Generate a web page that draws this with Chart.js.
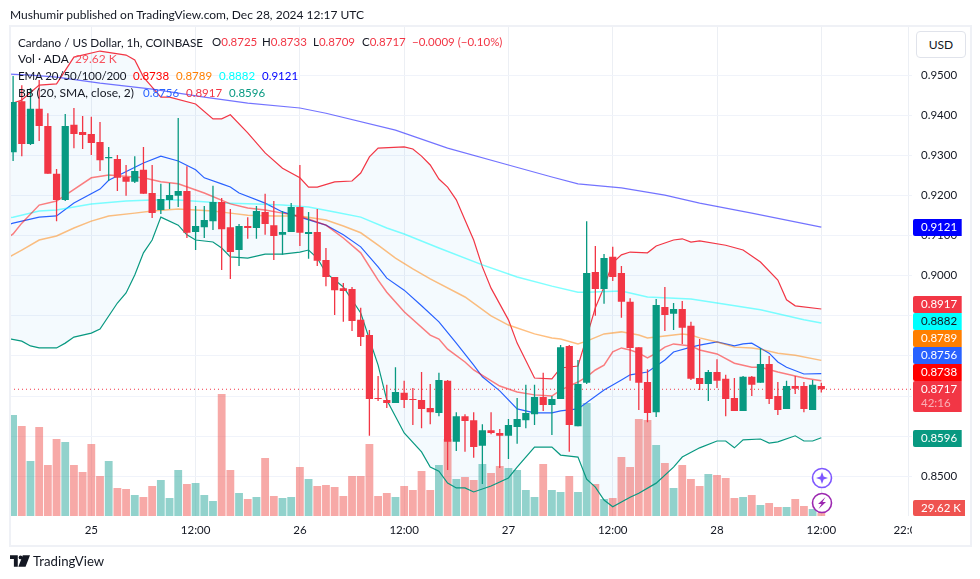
<!DOCTYPE html>
<html lang="en">
<head>
<meta charset="UTF-8">
<title>ADA/USD</title>
<script src="https://cdn.jsdelivr.net/npm/chart.js"></script>
<style>
    html, body { margin: 0; padding: 0; background: #fff; }
    body { width: 980px; height: 579px; overflow: hidden; position: relative; font-family: Lato, sans-serif; font-size: 12px; color: #131722; }
    canvas { position: absolute; left: 0; top: 0; }
    .txt { position: absolute; white-space: pre; line-height: 16px; }
    .val { font-size: 11.5px; }
    .frame { position: absolute; left: 9px; top: 25px; width: 959px; height: 518px; border: 2px solid #eff1f6; }
    .usd { position: absolute; left: 916px; top: 31px; width: 48px; height: 25px; border: 1px solid #e0e3eb; border-radius: 4px; text-align: center; line-height: 25px; background: #fff; }
    .cut { position: absolute; left: 912px; top: 518px; width: 50px; height: 22px; background: #fff; }
    svg { position: absolute; }
    .r { color: #f23645; }
</style>
</head>
<body>
<canvas id="chart" width="980" height="579"></canvas>
<div class="cut"></div>
<div class="frame"></div>
<div class="usd">USD</div>
<div class="txt" style="left:10px;top:7px">Mushumir published on TradingView.com, Dec 28, 2024 12:17 UTC</div>
<div class="txt" style="left:18px;top:34px;font-size:11.7px">Cardano / US Dollar, 1h, COINBASE</div>
<div class="txt val" style="left:212px;top:34px">O<span class="r">0.8725</span></div>
<div class="txt val" style="left:262px;top:34px">H<span class="r">0.8733</span></div>
<div class="txt val" style="left:313px;top:34px">L<span class="r">0.8709</span></div>
<div class="txt val" style="left:362px;top:34px">C<span class="r">0.8717</span></div>
<div class="txt val r" style="left:412px;top:34px">−0.0009 (−0.10%)</div>
<div class="txt" style="left:18px;top:51px">Vol · ADA</div>
<div class="txt" style="left:75px;top:51px;color:#f7525f">29.62 K</div>
<div class="txt" style="left:18px;top:68px;font-size:11.5px;letter-spacing:-.1px">EMA 20/50/100/200</div>
<div class="txt val" style="left:133px;top:68px;color:#ff0000">0.8738</div>
<div class="txt val" style="left:176px;top:68px;color:#ff7f00">0.8789</div>
<div class="txt val" style="left:219px;top:68px;color:#00ffff">0.8882</div>
<div class="txt val" style="left:262px;top:68px;color:#0000ff">0.9121</div>
<div class="txt" style="left:18px;top:85px">BB (20, SMA, close, 2)</div>
<div class="txt val" style="left:143px;top:85px;color:#2962ff">0.8756</div>
<div class="txt val r" style="left:186px;top:85px">0.8917</div>
<div class="txt val" style="left:229px;top:85px;color:#089981">0.8596</div>
<svg style="left:810px;top:467px" width="24" height="48" viewBox="0 0 24 48">
    <circle cx="12" cy="11" r="9.5" fill="#fff" stroke="#7e57ff" stroke-width="1.6"/>
    <path d="M12 5 L13.6 9.4 L18 11 L13.6 12.6 L12 17 L10.4 12.6 L6 11 L10.4 9.4 Z" fill="#7e57ff"/>
    <circle cx="12" cy="36" r="9.5" fill="#fff" stroke="#9c27b0" stroke-width="1.6"/>
    <path d="M15.5 30 L8 37 L11.5 37 L8.5 42 L16 35 L12.5 35 Z" fill="#9c27b0"/>
</svg>
<svg style="left:10px;top:555px" width="20" height="12" viewBox="0 0 36 21">
    <path d="M0 0 H14 V21 H7 V7 H0 Z M15 21 L23 0 H36 L28 21 Z" fill="#131722"/>
    <circle cx="19" cy="4" r="3.4" fill="#131722"/>
</svg>
<div class="txt" style="left:33px;top:553px;font-size:13.2px">TradingView</div>

<script>
    // price data, one value per hourly candle (24 Dec 15:00 .. 28 Dec 12:00)
    const opens = [.9308,.9435,.9328,.9416,.9373,.9254,.9189,.9376,.9358,.9353,.9333,.9293,.9291,.9246,.9234,.9264,.9206,.9164,.9189,.9199,.9211,.9109,.9121,.9136,.9184,.9121,.9064,.9124,.9119,.9159,.9126,.9102,.9109,.9171,.9104,.9109,.9039,.8997,.8969,.8967,.8890,.8852,.8695,.8690,.8683,.8708,.8693,.8690,.8670,.8658,.8738,.8586,.8650,.8640,.8576,.8615,.8608,.8601,.8623,.8640,.8655,.8698,.8678,.8693,.8825,.8625,.8733,.9009,.8967,.9047,.9007,.8935,.8822,.8735,.8660,.8922,.8905,.8917,.8875,.8745,.8730,.8760,.8743,.8695,.8663,.8748,.8733,.8780,.8700,.8668,.8725,.8725,.8665,.8725];
    const highs = [.9498,.9475,.9468,.9488,.9405,.9266,.9403,.9418,.9398,.9396,.9383,.9321,.9301,.9276,.9298,.9321,.9276,.9229,.9231,.9393,.9273,.9174,.9174,.9224,.9194,.9166,.9129,.9146,.9174,.9204,.9186,.9161,.9181,.9276,.9159,.9166,.9069,.8997,.8982,.8972,.8920,.8865,.8750,.8728,.8772,.8738,.8720,.8760,.8730,.8758,.8740,.8660,.8655,.8660,.8630,.8660,.8618,.8643,.8695,.8728,.8728,.8758,.8700,.8827,.8827,.8790,.9136,.9074,.9054,.9072,.9024,.8944,.8822,.8767,.8942,.8972,.8932,.8937,.8885,.8842,.8765,.8792,.8753,.8745,.8750,.8750,.8820,.8800,.8735,.8738,.8750,.8735,.8740,.8733];
    const lows = [.9286,.9298,.9326,.9336,.9254,.9136,.9186,.9318,.9316,.9301,.9261,.9236,.9211,.9199,.9231,.9204,.9144,.9154,.9166,.9171,.9094,.9064,.9094,.9114,.9014,.8992,.9024,.9092,.9092,.9102,.9039,.9052,.9109,.9074,.9042,.9024,.8974,.8902,.8885,.8862,.8825,.8601,.8688,.8670,.8683,.8670,.8628,.8620,.8630,.8650,.8516,.8563,.8561,.8546,.8481,.8605,.8521,.8543,.8581,.8620,.8628,.8663,.8603,.8693,.8561,.8625,.8730,.8900,.8930,.8987,.8895,.8738,.8665,.8635,.8648,.8862,.8865,.8830,.8740,.8715,.8688,.8720,.8650,.8663,.8663,.8700,.8733,.8680,.8653,.8668,.8705,.8660,.8665,.8709];
    const closes = [.9433,.9328,.9416,.9373,.9254,.9189,.9373,.9353,.9351,.9331,.9288,.9296,.9244,.9234,.9261,.9204,.9156,.9191,.9201,.9211,.9107,.9124,.9139,.9184,.9116,.9059,.9124,.9119,.9161,.9129,.9099,.9109,.9171,.9107,.9109,.9037,.8997,.8964,.8962,.8887,.8847,.8693,.8693,.8683,.8710,.8690,.8690,.8668,.8660,.8740,.8586,.8650,.8638,.8573,.8615,.8608,.8601,.8628,.8643,.8658,.8698,.8678,.8693,.8822,.8628,.8730,.9007,.8967,.9044,.8997,.8935,.8820,.8733,.8658,.8927,.8902,.8917,.8870,.8743,.8730,.8760,.8738,.8693,.8663,.8748,.8728,.8780,.8693,.8665,.8725,.8718,.8668,.8728,.8717];
    // volume in thousands of ADA
    const volumes = [1010,900,550,890,510,770,740,510,440,720,400,550,280,270,210,190,300,360,180,460,320,330,210,150,1220,460,230,170,190,580,200,180,190,490,370,300,310,290,200,400,400,720,200,230,190,300,260,450,260,510,770,370,390,360,520,430,500,480,460,260,190,520,260,240,400,240,1130,320,170,180,590,490,970,960,710,530,280,510,370,300,420,410,380,180,190,210,110,130,90,90,170,100,70,29.62];

    // indicator lines as [candle index, price]
    const bbUpper = [[-1,.9423],[1,.9438],[3,.9475],[5,.9478],[7,.9545],[10,.9560],[13,.9550],[14,.9538],[15,.9495],[17,.9445],[18,.9445],[21,.9428],[23,.9391],[24,.9391],[25,.9401],[27,.9356],[29,.9306],[31,.9268],[33,.9244],[34,.9221],[35,.9221],[37,.9234],[39,.9236],[40,.9256],[41,.9296],[42,.9318],[45,.9321],[46,.9316],[47,.9298],[48,.9276],[49,.9241],[50,.9221],[51,.9189],[52,.9139],[53,.9089],[54,.9022],[55,.8969],[57,.8890],[58,.8832],[60,.8745],[62,.8743],[63,.8770],[65,.8775],[66,.8847],[67,.8920],[68,.8972],[69,.9032],[70,.9052],[71,.9059],[73,.9057],[74,.9074],[76,.9089],[77,.9092],[78,.9084],[79,.9087],[82,.9076],[84,.9064],[86,.9034],[88,.8989],[89,.8940],[90,.8925],[93,.8917]];
    const bbLower = [[-1,.8845],[1,.8837],[2,.8825],[3,.8820],[5,.8820],[6,.8832],[7,.8847],[9,.8857],[10,.8867],[12,.8932],[13,.8957],[14,.9002],[15,.9057],[16,.9089],[17,.9146],[19,.9126],[20,.9102],[21,.9089],[23,.9084],[24,.9069],[25,.9047],[27,.9044],[29,.9054],[31,.9054],[33,.9059],[34,.9064],[35,.9044],[36,.9007],[38,.8972],[40,.8907],[42,.8777],[43,.8690],[45,.8608],[47,.8561],[48,.8523],[49,.8513],[50,.8483],[51,.8471],[52,.8471],[53,.8461],[55,.8476],[57,.8496],[58,.8523],[60,.8573],[62,.8573],[63,.8553],[65,.8548],[66,.8493],[67,.8473],[68,.8441],[69,.8424],[71,.8448],[72,.8458],[74,.8483],[76,.8523],[77,.8548],[79,.8571],[81,.8588],[82,.8588],[83,.8571],[84,.8591],[86,.8593],[87,.8583],[88,.8586],[90,.8601],[91,.8588],[92,.8588],[93,.8596]];
    const bbBasis = [[-1,.9124],[0,.9131],[3,.9146],[5,.9149],[7,.9181],[10,.9216],[11,.9238],[15,.9281],[17,.9298],[19,.9286],[21,.9264],[22,.9244],[24,.9229],[25,.9221],[26,.9206],[29,.9181],[31,.9159],[33,.9146],[36,.9126],[38,.9102],[40,.9072],[42,.9022],[43,.8994],[45,.8964],[47,.8925],[49,.8885],[51,.8832],[53,.8777],[54,.8748],[56,.8713],[58,.8668],[60,.8658],[62,.8658],[63,.8663],[65,.8668],[68,.8715],[70,.8740],[71,.8753],[73,.8760],[75,.8790],[76,.8810],[78,.8822],[79,.8827],[81,.8835],[83,.8825],[84,.8830],[85,.8832],[87,.8807],[88,.8785],[89,.8772],[91,.8755],[93,.8756]];
    const ema20 = [[-1,.9089],[0,.9104],[1,.9131],[3,.9176],[5,.9186],[9,.9244],[11,.9251],[15,.9244],[17,.9234],[19,.9229],[22,.9206],[25,.9179],[27,.9169],[29,.9164],[31,.9156],[33,.9149],[36,.9126],[38,.9094],[40,.9057],[42,.8989],[43,.8959],[45,.8910],[48,.8852],[49,.8842],[50,.8817],[52,.8785],[53,.8765],[56,.8725],[58,.8710],[60,.8703],[62,.8700],[63,.8715],[65,.8735],[66,.8748],[67,.8765],[68,.8777],[69,.8810],[70,.8820],[71,.8815],[72,.8807],[73,.8795],[74,.8807],[75,.8822],[76,.8830],[78,.8825],[79,.8815],[81,.8805],[83,.8782],[85,.8772],[86,.8772],[88,.8760],[89,.8755],[91,.8745],[93,.8738]];
    const ema50 = [[-1,.9039],[0,.9052],[1,.9064],[3,.9089],[5,.9099],[7,.9119],[9,.9136],[11,.9149],[14,.9156],[16,.9161],[19,.9166],[23,.9161],[25,.9156],[27,.9151],[30,.9149],[33,.9149],[36,.9139],[38,.9124],[40,.9107],[42,.9076],[44,.9044],[46,.9017],[48,.8992],[52,.8947],[55,.8900],[57,.8877],[60,.8855],[62,.8845],[63,.8842],[65,.8830],[66,.8837],[68,.8855],[70,.8860],[72,.8852],[73,.8845],[75,.8850],[77,.8855],[78,.8852],[79,.8845],[81,.8835],[83,.8822],[85,.8820],[86,.8817],[88,.8807],[90,.8802],[93,.8789]];
    const ema100 = [[-1,.9144],[0,.9146],[3,.9161],[5,.9164],[9,.9179],[13,.9186],[16,.9189],[19,.9189],[24,.9181],[28,.9179],[31,.9176],[34,.9171],[37,.9159],[40,.9146],[43,.9119],[45,.9104],[49,.9069],[54,.9027],[58,.8997],[62,.8974],[65,.8959],[66,.8959],[70,.8962],[73,.8947],[78,.8942],[81,.8932],[86,.8915],[91,.8890],[93,.8882]];
    const ema200 = [[-1,.9503],[2,.9500],[5,.9495],[10,.9480],[16,.9465],[22,.9445],[27,.9430],[33,.9418],[36,.9405],[44,.9363],[50,.9318],[57,.9276],[62,.9246],[65,.9229],[70,.9219],[75,.9201],[79,.9181],[85,.9156],[93,.9121]];

    // axis ticks
    const timeTicks = [9, 21, 33, 45, 57, 69, 81, 93, 103];
    const timeLabels = ['25', '12:00', '26', '12:00', '27', '12:00', '28', '12:00', '22:00'];
    const priceTicks = [.85, .86, .87, .88, .89, .90, .91, .92, .93, .94, .95];
    const lastClose = closes[closes.length - 1];

    const UP = '#089981', DOWN = '#f23645';
    const VIEW_MIN = -0.357, VIEW_MAX = 103.38;

    const candleColors = closes.map((c, i) => c >= opens[i] ? UP : DOWN);
    const volColors = closes.map((c, i) => c >= opens[i] ? 'rgba(38,166,154,.5)' : 'rgba(239,83,80,.5)');

    function lineSet(points, color, width, order, extra) {
        return Object.assign({
            type: 'line',
            data: points.map(p => ({ x: p[0], y: p[1] })),
            borderColor: color,
            borderWidth: width,
            pointRadius: 0,
            tension: 0,
            fill: false,
            order: order,
            xAxisID: 'x',
            yAxisID: 'y'
        }, extra || {});
    }

    // coloured price labels on the right
    const priceTags = [
        { text: '0.9121', top: 219, h: 17, bg: '#0000ff', fg: '#fff' },
        { text: '0.8917', top: 296, h: 17, bg: '#f23645', fg: '#fff' },
        { text: '0.8882', top: 313, h: 17, bg: '#00ffff', fg: '#131722' },
        { text: '0.8789', top: 330, h: 17, bg: '#ff7f00', fg: '#fff' },
        { text: '0.8756', top: 347, h: 17, bg: '#2962ff', fg: '#fff' },
        { text: '0.8738', top: 364, h: 17, bg: '#ff0000', fg: '#fff' },
        { text: '0.8717', top: 381, h: 31, bg: '#f23645', fg: '#fff', sub: '42:16' },
        { text: '0.8596', top: 430, h: 17, bg: '#089981', fg: '#fff' },
        { text: '29.62 K', top: 500, h: 16, bg: '#ef5350', fg: '#fff', w: 52 }
    ];

    const tagPlugin = {
        id: 'tags',
        afterDraw(chart) {
            const ctx = chart.ctx;
            ctx.save();
            ctx.font = '11.5px Lato, sans-serif';
            ctx.textBaseline = 'middle';
            priceTags.forEach(t => {
                ctx.fillStyle = t.bg;
                ctx.beginPath();
                ctx.roundRect(913, t.top, t.w || 48.7, t.h, [2, 0, 0, 2]);
                ctx.fill();
                ctx.fillStyle = t.fg;
                ctx.fillText(t.text, 921, t.top + 8.5);
                if (t.sub) {
                    ctx.fillStyle = 'rgba(255,255,255,.6)';
                    ctx.fillText(t.sub, 921, t.top + 22.5);
                }
            });
            ctx.restore();
        }
    };

    new Chart(document.getElementById('chart').getContext('2d'), {
        type: 'bar',
        data: {
            datasets: [
                lineSet(bbUpper, '#f23645', 1.2, 9, { fill: { target: 1, above: 'rgba(33,150,243,.05)', below: 'rgba(33,150,243,.05)' } }),
                lineSet(bbLower, '#089981', 1.2, 9),
                lineSet(bbBasis, '#2962ff', 1.2, 8),
                lineSet(ema200, 'rgba(0,0,255,.55)', 1.2, 7),
                lineSet(ema100, 'rgba(0,255,255,.5)', 1.5, 6),
                lineSet(ema50, 'rgba(255,127,0,.5)', 1.5, 5),
                lineSet(ema20, 'rgba(255,0,0,.5)', 1.5, 4),
                lineSet([[VIEW_MIN, lastClose], [VIEW_MAX, lastClose]], '#f23645', 1, 3, { borderDash: [1, 3] }),
                {
                    label: 'Vol',
                    data: volumes.map((v, i) => ({ x: i, y: v })),
                    backgroundColor: volColors,
                    barThickness: 7.8,
                    grouped: false,
                    borderWidth: 0,
                    inflateAmount: 0,
                    order: 10,
                    xAxisID: 'x',
                    yAxisID: 'vol'
                },
                {
                    label: 'Wicks',
                    data: lows.map((l, i) => ({ x: i, y: [l, highs[i]] })),
                    backgroundColor: candleColors,
                    barThickness: 1.3,
                    grouped: false,
                    borderWidth: 0,
                    inflateAmount: 0,
                    order: 2,
                    xAxisID: 'x',
                    yAxisID: 'y'
                },
                {
                    label: 'Bodies',
                    data: opens.map((o, i) => ({ x: i, y: [o, closes[i]] })),
                    backgroundColor: candleColors,
                    barThickness: 7.2,
                    grouped: false,
                    borderWidth: 0,
                    inflateAmount: 0,
                    order: 1,
                    xAxisID: 'x',
                    yAxisID: 'y'
                }
            ]
        },
        options: {
            responsive: false,
            animation: false,
            devicePixelRatio: 1,
            layout: { padding: { left: 10, top: 27, right: 0, bottom: 0 } },
            plugins: {
                legend: { display: false },
                tooltip: { enabled: false },
                filler: { drawTime: 'beforeDatasetsDraw' }
            },
            scales: {
                x: {
                    type: 'linear',
                    offset: false,
                    min: VIEW_MIN,
                    max: VIEW_MAX,
                    border: { display: false },
                    grid: { color: '#eceff4', drawTicks: false, offset: false },
                    afterBuildTicks: s => { s.ticks = timeTicks.map(v => ({ value: v })); },
                    afterFit: s => { s.height = 63; },
                    ticks: {
                        autoSkip: false,
                        maxRotation: 0,
                        padding: 7,
                        color: '#131722',
                        font: { family: 'Lato, sans-serif', size: 11.5 },
                        callback: v => timeLabels[timeTicks.indexOf(v)]
                    }
                },
                y: {
                    position: 'right',
                    min: 0.84011,
                    max: 0.96199,
                    border: { display: false },
                    grid: { color: '#f0f3fa', drawTicks: false },
                    afterBuildTicks: s => { s.ticks = priceTicks.map(v => ({ value: v })); },
                    afterFit: s => { s.width = 68.5; },
                    ticks: {
                        padding: 9.5,
                        color: '#131722',
                        font: { family: 'Lato, sans-serif', size: 11.5 },
                        callback: v => v.toFixed(4)
                    }
                },
                vol: { display: false, min: 0, max: 4890 }
            }
        },
        plugins: [tagPlugin]
    });
</script>
</body>
</html>
